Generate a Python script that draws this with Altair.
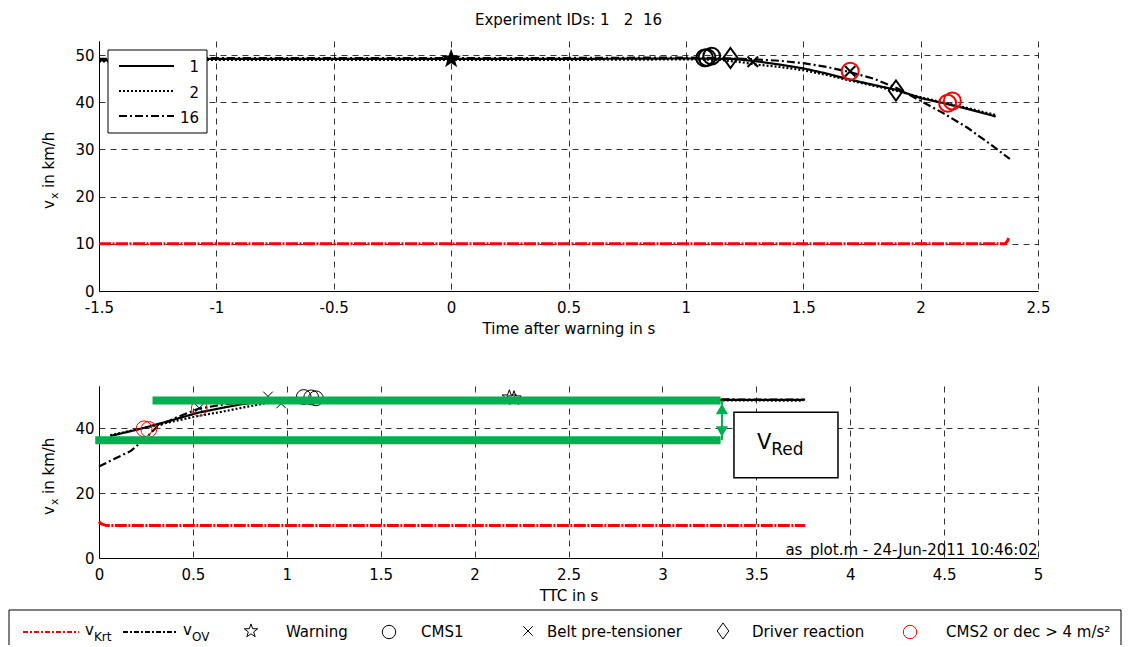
import altair as alt
import pandas as pd

FONT = "DejaVu Sans"
GREEN = "#00b050"
RED = "#ff0000"
FS = 15

# ---------------- labels ----------------
EXP_IDS = ["1", "2", "16"]
TITLE_TEXT = "Experiment IDs: 1\u00a0\u00a0\u00a02\u00a0\u00a016"
TOP_X_TITLE = "Time after warning in s"
BOT_X_TITLE = "TTC in s"
STAMP = "as_plot.m - 24-Jun-2011 10:46:02"
TOP_X_TICKS = [-1.5, -1, -0.5, 0, 0.5, 1, 1.5, 2, 2.5]
TOP_Y_TICKS = [0, 10, 20, 30, 40, 50]
BOT_X_TICKS = [0, 0.5, 1, 1.5, 2, 2.5, 3, 3.5, 4, 4.5, 5]
BOT_Y_TICKS = [0, 20, 40]

# ---------------- upper panel: v over time after warning ----------------
T_EXP1 = [-1.5, -1.1, -1.05, -0.5, 0.0, 0.5, 1.0, 1.2, 1.3, 1.4, 1.5, 1.6, 1.7, 1.8, 1.9, 2.0, 2.1, 2.2, 2.32]
V_EXP1 = [48.9, 48.9, 49.2, 49.2, 49.2, 49.2, 49.3, 49.2, 48.7, 48.0, 47.2, 46.1, 44.8, 43.7, 42.6, 40.9, 39.8, 38.6, 37.0]
T_EXP2 = [-1.5, -1.1, -1.05, -0.5, 0.0, 0.5, 1.0, 1.15, 1.25, 1.3, 1.4, 1.5, 1.6, 1.7, 1.8, 1.9, 2.0, 2.1, 2.2, 2.32]
V_EXP2 = [48.7, 48.7, 49.0, 49.0, 49.0, 49.0, 49.1, 49.0, 48.4, 48.0, 47.5, 46.8, 45.8, 44.6, 43.5, 42.4, 41.1, 39.9, 38.8, 37.3]
T_EXP16 = [-1.5, -1.1, -1.05, -0.5, 0.0, 0.5, 1.0, 1.2, 1.3, 1.4, 1.5, 1.6, 1.7, 1.8, 1.9, 2.0, 2.1, 2.2, 2.3, 2.38]
V_EXP16 = [49.2, 49.2, 49.4, 49.4, 49.4, 49.4, 49.5, 49.3, 49.1, 48.8, 48.3, 47.5, 46.4, 45.0, 43.0, 40.3, 37.6, 34.6, 31.0, 28.0]
T_KRT = [-1.5, 2.36, 2.37, 2.375]
V_KRT = [10.0, 10.0, 10.6, 11.2]

STAR_T, STAR_V = [0.0], [49.2]
CMS1_T, CMS1_V = [1.08, 1.09, 1.11], [49.4, 49.5, 49.8]
BELT_T, BELT_V = [1.285, 1.70], [48.6, 46.6]
DRV_T, DRV_V = [1.19, 1.895], [49.4, 42.5]
CMS2_T, CMS2_V = [1.70, 2.115, 2.135], [46.6, 39.8, 40.3]

# ---------------- lower panel: v over TTC ----------------
B_TTC_EXP1 = [0.06, 0.2, 0.31, 0.42, 0.53, 0.65, 0.76, 0.88, 0.97, 1.1, 1.5, 2.0, 2.5, 3.0, 3.5, 3.75]
B_V_EXP1 = [37.6, 39.5, 41.2, 43.0, 44.8, 46.2, 47.4, 48.3, 48.9, 49.1, 49.1, 49.0, 48.9, 48.8, 48.7, 48.7]
B_TTC_EXP2 = [0.06, 0.2, 0.31, 0.42, 0.53, 0.65, 0.76, 0.88, 1.0, 1.2, 2.0, 3.0, 3.75]
B_V_EXP2 = [37.8, 39.6, 41.0, 42.4, 43.8, 45.0, 46.3, 47.6, 48.6, 49.0, 48.9, 48.6, 48.5]
B_TTC_EXP16 = [0.0, 0.08, 0.17, 0.25, 0.31, 0.42, 0.53, 0.65, 0.76, 0.9, 1.1, 2.0, 3.0, 3.76]
B_V_EXP16 = [28.2, 30.5, 33.0, 37.0, 40.5, 43.5, 46.0, 47.2, 48.0, 48.6, 49.1, 49.1, 48.9, 48.8]
B_TTC_KRT = [0.0, 0.01, 0.04, 3.76]
B_V_KRT = [11.2, 10.6, 10.0, 10.0]

B_STAR_T, B_STAR_V = [2.185, 2.21], [49.5, 49.2]
B_CMS1_T, B_CMS1_V = [1.09, 1.13, 1.155], [49.6, 49.5, 49.2]
B_BELT_T, B_BELT_V = [0.90, 0.97, 0.534], [49.8, 47.6, 46.2]
B_CMS2_T, B_CMS2_V = [0.24, 0.265, 0.534], [39.8, 39.6, 46.2]

# V_Red annotation (in TTC / km/h units)
VRED_UPPER = {"t": [0.285], "t2": [3.31], "v": [48.5]}
VRED_LOWER = {"t": [-0.02], "t2": [3.31], "v": [36.3]}
VRED_ARROW = {"t": [3.317], "v": [48.5], "v2": [36.3]}
VRED_BOX = {"t": [3.381], "t2": [3.935], "v": [44.9], "v2": [24.7]}

STAR = "M0,-1L0.235,-0.324L0.951,-0.309L0.380,0.124L0.588,0.809L0,0.4L-0.588,0.809L-0.380,0.124L-0.951,-0.309L-0.235,-0.324Z"
XMARK = "M-1,-1L1,1M-1,1L1,-1"
DIAM = "M0,-1L0.72,0L0,1L-0.72,0Z"
KRT_DASH = [12, 1.5, 2, 1.5]

ONE = pd.DataFrame({"k": [0]})


def txt(s, x, y, size=FS, align="left", baseline="middle", angle=None, color="black"):
    kw = dict(text=s, font=FONT, fontSize=size, align=align, baseline=baseline, color=color)
    if angle is not None:
        kw["angle"] = angle
    return alt.Chart(ONE).mark_text(**kw).encode(x=alt.value(x), y=alt.value(y))


def hrule(x1, x2, y, color="black", width=1, dash=None):
    kw = dict(color=color, strokeWidth=width)
    if dash:
        kw["strokeDash"] = dash
    return alt.Chart(ONE).mark_rule(**kw).encode(x=alt.value(x1), x2=alt.value(x2), y=alt.value(y))


def vrule(x, y1, y2, color="black", width=1):
    return alt.Chart(ONE).mark_rule(color=color, strokeWidth=width).encode(
        x=alt.value(x), y=alt.value(y1), y2=alt.value(y2))


def sym(shape, x, y, size, color="black", filled=False, width=1):
    return alt.Chart(ONE).mark_point(shape=shape, size=size, filled=filled, color=color,
                                     strokeWidth=width, opacity=1).encode(
        x=alt.value(x), y=alt.value(y))


def series_df(parts):
    rows = []
    for key, ts, vs in parts:
        for t, v in zip(ts, vs):
            rows.append({"id": key, "t": t, "v": v})
    return pd.DataFrame(rows)


def make_xy(domain, ticks, title, ydomain, yticks):
    X = alt.X("t:Q", scale=alt.Scale(domain=domain, nice=False, zero=False),
              axis=alt.Axis(values=ticks, title=title, labelExpr="datum.value + ''",
                            labelFlush=False, labelOverlap=False))
    Y = alt.Y("v:Q", scale=alt.Scale(domain=ydomain, nice=False, zero=False),
              axis=alt.Axis(values=yticks, title=None, labelFlush=False, labelOverlap=False))
    return X, Y


def markers(X, Y, ts, vs, shape, size, color="black", filled=False, width=2):
    df = pd.DataFrame({"t": ts, "v": vs})
    return alt.Chart(df).mark_point(shape=shape, size=size, filled=filled, color=color,
                                    strokeWidth=width, opacity=1).encode(x=X, y=Y)


DASH = alt.StrokeDash("id:N", scale=alt.Scale(domain=EXP_IDS, range=[[1, 0], [2, 2], [8, 3, 2, 3]]),
                      legend=None)

# ================= upper panel =================
XT, YT = make_xy([-1.5, 2.5], TOP_X_TICKS, TOP_X_TITLE, [0, 53], TOP_Y_TICKS)
top_lines = series_df([("1", T_EXP1, V_EXP1), ("2", T_EXP2, V_EXP2), ("16", T_EXP16, V_EXP16)])
top_krt = pd.DataFrame({"t": T_KRT, "v": V_KRT})

top_layers = [
    alt.Chart(top_krt).mark_line(color=RED, strokeWidth=3, strokeDash=KRT_DASH).encode(x=XT, y=YT),
    alt.Chart(top_lines).mark_line(color="black", strokeWidth=2.2).encode(x=XT, y=YT, strokeDash=DASH),
    markers(XT, YT, STAR_T, STAR_V, STAR, 420, filled=True, width=1),
    markers(XT, YT, CMS1_T, CMS1_V, "circle", 280),
    markers(XT, YT, DRV_T, DRV_V, DIAM, 400),
    markers(XT, YT, BELT_T, BELT_V, XMARK, 110),
    markers(XT, YT, CMS2_T, CMS2_V, "circle", 290, color=RED),
    # legend box
    alt.Chart(ONE).mark_rect(fill="white", stroke="black", strokeWidth=1).encode(
        x=alt.value(9), x2=alt.value(108), y=alt.value(9), y2=alt.value(92)),
    hrule(20, 75, 25, width=2),
    hrule(20, 75, 50, width=2, dash=[2, 2]),
    hrule(20, 75, 75, width=2, dash=[8, 3, 2, 3]),
    txt(EXP_IDS[0], 100, 26, align="right"),
    txt(EXP_IDS[1], 100, 52, align="right"),
    txt(EXP_IDS[2], 100, 77, align="right"),
    # title
    txt(TITLE_TEXT, 469.5, -16, baseline="alphabetic", align="center"),
    # y label  v_x in km/h
    txt("v", -45, 168, align="left", baseline="alphabetic", angle=270),
    txt("x", -41, 158, size=11, align="left", baseline="alphabetic", angle=270),
    txt("in km/h", -45, 147, align="left", baseline="alphabetic", angle=270),
]
top = alt.layer(*top_layers).properties(width=939, height=250)

# ================= lower panel =================
XB, YB = make_xy([0, 5], BOT_X_TICKS, BOT_X_TITLE, [0, 53], BOT_Y_TICKS)
bot_lines = series_df([("1", B_TTC_EXP1, B_V_EXP1), ("2", B_TTC_EXP2, B_V_EXP2), ("16", B_TTC_EXP16, B_V_EXP16)])
bot_krt = pd.DataFrame({"t": B_TTC_KRT, "v": B_V_KRT})

X2B = alt.X2("t2:Q")
bot_layers = [
    alt.Chart(bot_krt).mark_line(color=RED, strokeWidth=3, strokeDash=KRT_DASH).encode(x=XB, y=YB),
    alt.Chart(bot_lines).mark_line(color="black", strokeWidth=2.2).encode(x=XB, y=YB, strokeDash=DASH),
    markers(XB, YB, B_STAR_T, B_STAR_V, STAR, 230, width=1),
    markers(XB, YB, B_CMS1_T, B_CMS1_V, "circle", 220, width=1),
    markers(XB, YB, B_BELT_T, B_BELT_V, XMARK, 90, width=1),
    markers(XB, YB, B_CMS2_T, B_CMS2_V, "circle", 250, color=RED, width=1),
    # V_Red annotation
    alt.Chart(pd.DataFrame(VRED_UPPER)).mark_rule(color=GREEN, strokeWidth=8, strokeCap="butt").encode(
        x=XB, x2=X2B, y=YB),
    alt.Chart(pd.DataFrame(VRED_LOWER)).mark_rule(color=GREEN, strokeWidth=8, strokeCap="butt").encode(
        x=XB, x2=X2B, y=YB),
    alt.Chart(pd.DataFrame(VRED_ARROW)).mark_rule(color=GREEN, strokeWidth=2).encode(
        x=XB, y=YB, y2=alt.Y2("v2:Q")),
    markers(XB, YB, [3.317], [45.9], "triangle-up", 150, color=GREEN, filled=True, width=0),
    markers(XB, YB, [3.317], [39.0], "triangle-down", 150, color=GREEN, filled=True, width=0),
    alt.Chart(pd.DataFrame(VRED_BOX)).mark_rect(fill="white", stroke="black", strokeWidth=1.5).encode(
        x=XB, x2=X2B, y=YB, y2=alt.Y2("v2:Q")),
    alt.Chart(pd.DataFrame({"t": [3.504], "v": [33.5]})).mark_text(
        text="V", font=FONT, fontSize=21, align="left", baseline="alphabetic", color="black").encode(x=XB, y=YB),
    alt.Chart(pd.DataFrame({"t": [3.579], "v": [31.7]})).mark_text(
        text="Red", font=FONT, fontSize=17, align="left", baseline="alphabetic", color="black").encode(x=XB, y=YB),
    # stamp
    txt(STAMP, 938.5, 169, align="right", baseline="alphabetic"),
    # y label
    txt("v", -45, 129, align="left", baseline="alphabetic", angle=270),
    txt("x", -41, 119, size=11, align="left", baseline="alphabetic", angle=270),
    txt("in km/h", -45, 108, align="left", baseline="alphabetic", angle=270),
    # bottom legend frame
    hrule(-90, 1022, 224),
    vrule(-90, 224, 259),
    vrule(1022, 224, 259),
    hrule(-76, -20, 246, color=RED, width=2, dash=[5, 2, 2, 2]),
    txt("v", -14, 244),
    txt("Krt", -5, 251, size=12),
    hrule(24, 77, 246, color="black", width=2, dash=[5, 2, 2, 2]),
    txt("v", 84, 244),
    txt("OV", 93, 251, size=12),
    sym(STAR, 152, 245, 200),
    txt("Warning", 187, 246),
    sym("circle", 290, 246, 180),
    txt("CMS1", 322, 246),
    sym(XMARK, 429, 245, 90),
    txt("Belt pre-tensioner", 448, 246),
    sym(DIAM, 624, 245, 260),
    txt("Driver reaction", 653, 246),
    sym("circle", 811, 246, 180, color=RED),
    txt("CMS2 or dec > 4 m/s\u00b2", 847, 246),
]
bottom = alt.layer(*bot_layers).properties(width=939, height=172)

chart = alt.vconcat(top, bottom, spacing=50).properties(
    padding={"left": 0, "top": 5, "right": 0, "bottom": 0}
).configure_view(stroke=None).configure_axis(
    domainColor="black", domainWidth=1, tickSize=0,
    labelFont=FONT, labelFontSize=FS, labelColor="black",
    gridColor="black", gridDash=[6, 5], gridWidth=0.8, gridOpacity=1,
    titleFont=FONT, titleFontSize=FS, titleColor="black", titleFontWeight="normal",
).configure_axisX(labelPadding=9, titlePadding=6).configure_axisY(labelPadding=5)

chart.save("out.html", embed_options={"renderer": "svg", "actions": False})
